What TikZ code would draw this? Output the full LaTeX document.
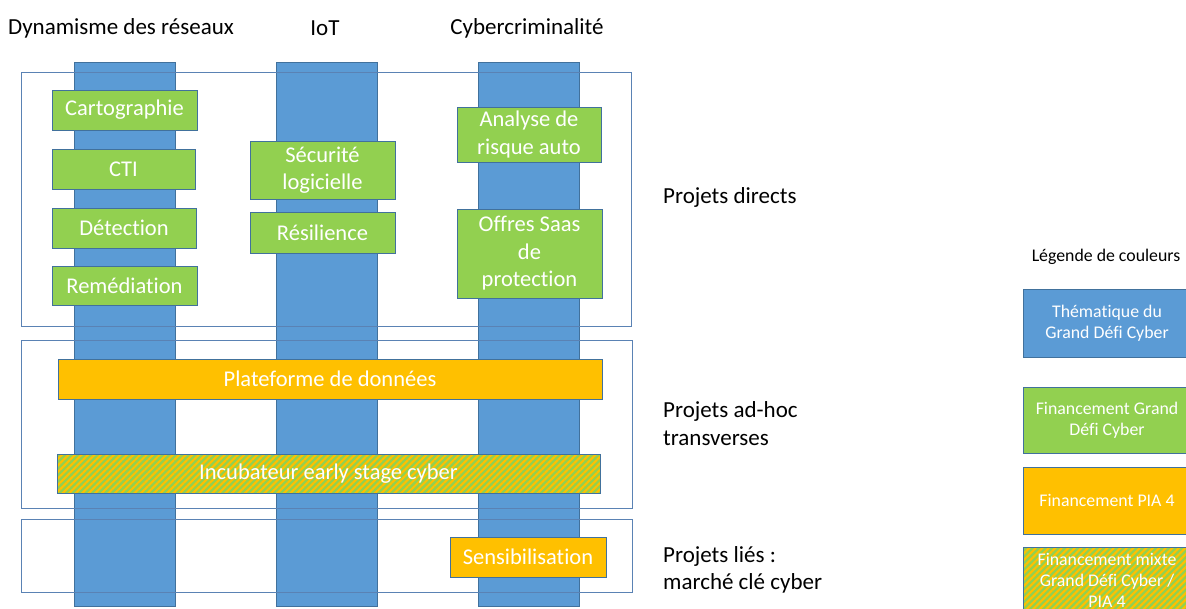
\documentclass[tikz,border=0pt]{standalone}
\usepackage{fontspec}
\setmainfont{Carlito}[Ligatures=NoCommon]
\usetikzlibrary{patterns.meta}
\definecolor{thblue}{HTML}{5B9BD5}
\definecolor{gdgreen}{HTML}{92D050}
\definecolor{piaorange}{HTML}{FFC000}
\definecolor{bord}{HTML}{41719C}
\definecolor{frm}{HTML}{5A82B4}
\tikzset{
  base/.style={draw=bord, line width=0.8pt, inner sep=0pt, align=center, text=white,
     font=\fontsize{22.5}{27.5}\selectfont},
  bar/.style={base, fill=thblue},
  gbox/.style={base, fill=gdgreen},
  obox/.style={base, fill=piaorange},
  hbox/.style={base, preaction={fill=gdgreen}, pattern={Lines[angle=45,distance=4.6pt,line width=2.1pt]}, pattern color=piaorange},
  frame/.style={draw=frm, line width=0.9pt},
  head/.style={font=\fontsize{23}{27}\selectfont, text=black, inner sep=0pt},
  side/.style={font=\fontsize{23}{27.5}\selectfont, text=black, inner sep=0pt, align=left, anchor=west},
  leg/.style={base, font=\fontsize{17.8}{21}\selectfont},
}
\begin{document}
\begin{tikzpicture}[x=1pt,y=-1pt]
\useasboundingbox (0,0) rectangle (1186,608);
\clip (0,0) rectangle (1186,608);
% headings
\node[head] (h1) at (121,28) {Dynamisme des réseaux};
\node[head] (h2) at (325,28) {IoT};
\node[head] (h3) at (527,28) {Cybercriminalité};
% bars
\node[bar, minimum width=101pt, minimum height=544pt] (b1) at (124.5,334) {};
\node[bar, minimum width=101pt, minimum height=544pt] (b2) at (326.5,334) {};
\node[bar, minimum width=101pt, minimum height=544pt] (b3) at (528.5,334) {};
% frames
\draw[frame] (21,72) rectangle (631,326);
\draw[frame] (21,340) rectangle (632,508);
\draw[frame] (21,519) rectangle (632,592);
% green boxes
\node[gbox, minimum width=145pt, minimum height=40pt] (carto) at (124.5,110) {Cartographie};
\node[gbox, minimum width=143pt, minimum height=40pt] (cti) at (123.5,169) {CTI};
\node[gbox, minimum width=144pt, minimum height=40pt] (detec) at (124,228) {Détection};
\node[gbox, minimum width=145pt, minimum height=39pt] (remed) at (124.5,285.5) {Remédiation};
\node[gbox, minimum width=145pt, minimum height=58pt] (secu) at (322.5,170) {Sécurité\\logicielle};
\node[gbox, minimum width=145pt, minimum height=41pt] (resil) at (322.5,232.5) {Résilience};
\node[gbox, minimum width=144pt, minimum height=55pt] (analyse) at (529,134.5) {Analyse de\\risque auto};
\node[gbox, minimum width=145pt, minimum height=89pt] (offres) at (529.5,253.5) {Offres Saas\\de\\protection};
% transverse
\node[obox, minimum width=544pt, minimum height=40pt] (plat) at (330,379) {Plateforme de données};
\node[hbox, minimum width=543pt, minimum height=39pt] (incub) at (328.5,473.5) {Incubateur early stage cyber};
\node[obox, minimum width=156pt, minimum height=40pt] (sensi) at (528,557) {Sensibilisation};
% side labels
\node[side] (s1) at (663,197) {Projets directs};
\node[side] (s2) at (663,423.5) {Projets ad-hoc\\transverses};
\node[side] (s3) at (663,570) {Projets liés :\\marché clé cyber};
% legend
\node[font=\fontsize{17.8}{21}\selectfont, text=black, inner sep=0pt] (legt) at (1106,257) {Légende de couleurs};
\node[leg, fill=thblue, minimum width=168pt, minimum height=68pt] (l1) at (1107,323) {Thématique du\\Grand Défi Cyber};
\node[leg, fill=gdgreen, minimum width=168pt, minimum height=66pt] (l2) at (1107,420) {Financement Grand\\Défi Cyber};
\node[leg, fill=piaorange, minimum width=168pt, minimum height=67pt] (l3) at (1107,500.5) {Financement PIA 4};
\node[leg, preaction={fill=gdgreen}, pattern={Lines[angle=45,distance=4.6pt,line width=2.1pt]}, pattern color=piaorange, minimum width=168pt, minimum height=66pt] (l4) at (1107,580) {Financement mixte\\Grand Défi Cyber /\\PIA 4};
\end{tikzpicture}
\end{document}
